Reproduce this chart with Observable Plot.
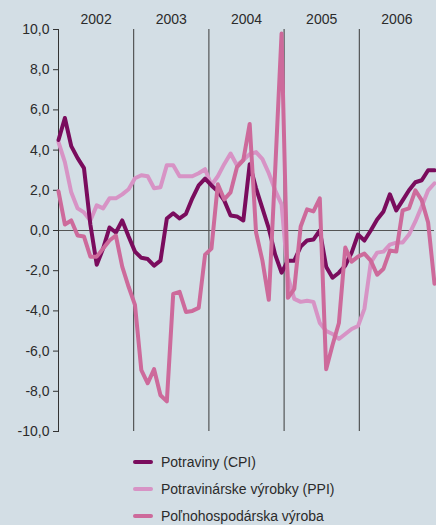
<!DOCTYPE html>
<html>
<head>
<meta charset="utf-8">
<script src="https://cdn.jsdelivr.net/npm/d3@7"></script>
<script src="https://cdn.jsdelivr.net/npm/@observablehq/plot@0.6"></script>
<style>
  html, body { margin: 0; padding: 0; background: #d3dee5; overflow: hidden; }
  body { width: 436px; height: 525px; font-family: "Liberation Sans", Arial, sans-serif; color: #2b2b2b; }
  #legend { margin-left: 133px; padding-top: 9px; }
  .row { display: flex; align-items: center; height: 26.7px; font-size: 14px; }
  .sw { width: 20px; height: 4px; border-radius: 2px; margin-right: 8px; }
</style>
</head>
<body>
<div id="chart"></div>
<div id="legend"></div>
<script>
const years = ["2002", "2003", "2004", "2005", "2006"];
const yTicks = [-10, -8, -6, -4, -2, 0, 2, 4, 6, 8, 10];
const seriesNames = ["Potraviny (CPI)", "Potravinárske výrobky (PPI)", "Poľnohospodárska výroba"];
const seriesColors = ["#7a0c5d", "#d793c5", "#cd6a9b"];

const cpi = [4.5, 5.6, 4.2, 3.6, 3.1, 0.3, -1.7, -0.9, 0.15, -0.1, 0.5, -0.3,
  -1.05, -1.36, -1.42, -1.75, -1.5, 0.6, 0.86, 0.6, 0.83, 1.6, 2.24, 2.58,
  2.24, 1.95, 1.5, 0.75, 0.7, 0.5, 3.3, 2.1, 1.1, 0.1, -1.2, -2.1,
  -1.5, -1.5, -0.8, -0.5, -0.45, 0.0, -1.8, -2.35, -2.1, -1.75, -1.1, -0.2,
  -0.5, 0.0, 0.55, 0.95, 1.8, 1.0, 1.5, 2.0, 2.4, 2.5, 3.0, 3.0];
const ppi = [4.4, 3.4, 1.9, 1.1, 0.9, 0.5, 1.25, 1.1, 1.6, 1.6, 1.8, 2.05,
  2.6, 2.75, 2.7, 2.1, 2.15, 3.25, 3.25, 2.7, 2.7, 2.7, 2.85, 3.05,
  2.25, 2.7, 3.3, 3.83, 3.25, 3.5, 3.8, 3.9, 3.55, 2.85, 2.0, 1.3,
  -2.3, -3.4, -3.55, -3.5, -3.55, -4.6, -5.0, -5.15, -5.4, -5.15, -4.9, -4.75,
  -3.9, -1.6, -1.1, -1.05, -0.7, -0.6, -0.6, -0.2, 0.45, 1.2, 2.0, 2.35];
const agri = [1.95, 0.3, 0.5, -0.25, -0.3, -1.3, -1.3, -0.9, -0.5, -0.25, -1.8, -2.8,
  -3.7, -6.95, -7.6, -6.9, -8.2, -8.5, -3.15, -3.05, -4.05, -4.0, -3.85, -1.2,
  -0.9, 2.3, 1.55, 1.9, 3.15, 3.5, 5.3, -0.1, -1.5, -3.45, 3.0, 9.8,
  -3.35, -2.9, 0.2, 1.05, 0.95, 1.6, -6.9, -5.7, -4.6, -0.85, -1.55, -1.3,
  -1.15, -1.5, -2.2, -1.9, -1.0, -1.05, 1.0, 1.1, 2.0, 1.5, 0.4, -2.65];

const nMonths = years.length * 12;
const toRows = vals => vals.map((v, i) => ({x: i * nMonths / (vals.length - 1), y: v}));
const yearBounds = years.slice(1).map((_, k) => (k + 1) * 12);
const yearCenters = years.map((_, k) => k * 12 + 6);
const fmt = d => d.toFixed(1).replace(".", ",");

const chart = Plot.plot({
  width: 436,
  height: 440,
  marginLeft: 58,
  marginRight: 2,
  marginTop: 29,
  marginBottom: 9,
  style: {background: "transparent", fontFamily: "'Liberation Sans', Arial, sans-serif", fontSize: "14px", color: "#2b2b2b"},
  x: {domain: [0, nMonths], axis: null, label: null},
  y: {domain: [-10, 10], axis: null, label: null},
  marks: [
    Plot.ruleX(yearBounds, {stroke: "#3a3a3a", strokeWidth: 1}),
    Plot.ruleY([0], {stroke: "#555", strokeWidth: 1}),
    Plot.frame({anchor: "left", stroke: "#333"}),
    Plot.axisY({ticks: yTicks, tickFormat: fmt, tickSize: 5, tickPadding: 4, stroke: "#333", fill: "#2b2b2b", label: null}),
    Plot.axisX({anchor: "top", ticks: yearCenters, tickFormat: d => years[(d - 6) / 12], tickSize: 0, tickPadding: 6, fill: "#2b2b2b", label: null}),
    Plot.line(toRows(ppi), {x: "x", y: "y", stroke: seriesColors[1], strokeWidth: 4}),
    Plot.line(toRows(cpi), {x: "x", y: "y", stroke: seriesColors[0], strokeWidth: 4}),
    Plot.line(toRows(agri), {x: "x", y: "y", stroke: seriesColors[2], strokeWidth: 4})
  ]
});
document.getElementById("chart").append(chart);

const legend = document.getElementById("legend");
seriesNames.forEach((name, i) => {
  const row = document.createElement("div");
  row.className = "row";
  const sw = document.createElement("span");
  sw.className = "sw";
  sw.style.background = seriesColors[i];
  const t = document.createElement("span");
  t.textContent = name;
  row.append(sw, t);
  legend.append(row);
});
</script>
</body>
</html>
